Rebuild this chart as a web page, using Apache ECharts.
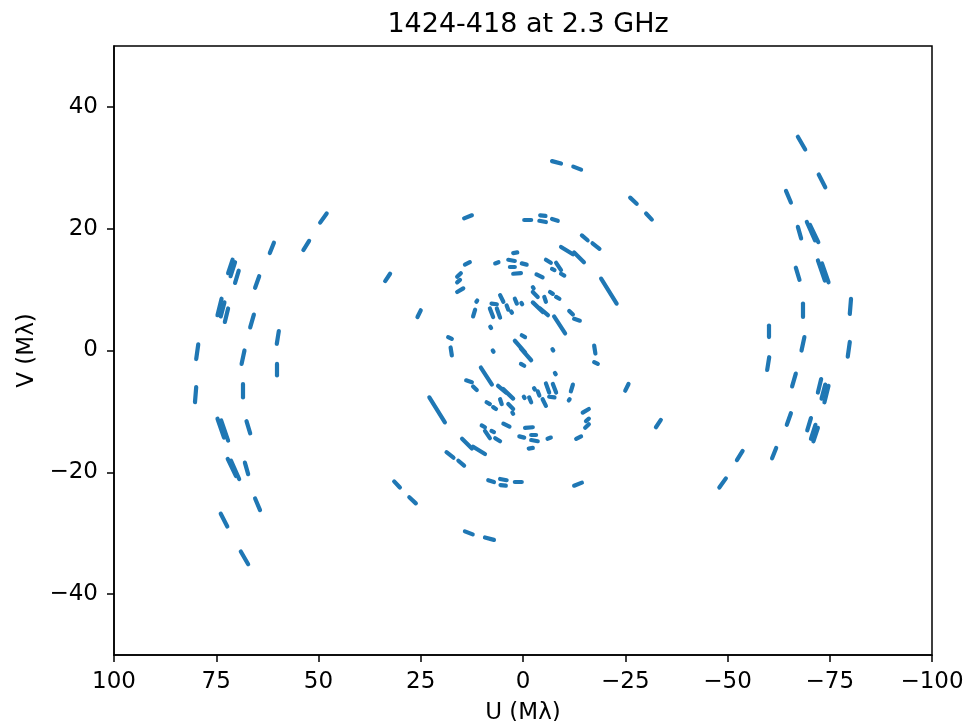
<!DOCTYPE html>
<html>
<head>
<meta charset="utf-8">
<script src="https://cdn.jsdelivr.net/npm/echarts@6/dist/echarts.min.js"></script>
<style>html,body{margin:0;padding:0;background:#fff;}#c{width:978px;height:721px;}</style>
</head>
<body>
<div id="c"></div>
<script>
// uv-track dashes: [u1, v1, u2, v2] in Mλ
const dashesPosU = [
  [61.9,16.0,60.9,17.7],[53.7,16.5,52.3,18.0],[49.6,21.0,48.0,22.5],
  [72.1,12.7,71.0,14.9],[71.5,12.2,70.4,14.5],[70.4,11.1,69.5,13.1],
  [65.5,10.3,64.5,12.2],[74.7,5.8,73.7,8.5],[73.9,5.6,73.0,7.9],
  [72.9,4.7,72.1,6.9],[66.7,3.8,65.8,5.9],[60.2,1.1,59.7,3.2],
  [79.9,-1.4,79.4,1.0],[68.8,-2.2,68.1,0.0],[60.2,-4.1,60.1,-2.2],
  [80.2,-8.5,79.9,-6.0],[68.4,-7.7,68.5,-5.5],[74.7,-11.2,73.1,-14.3],
  [73.8,-11.5,72.1,-14.8],[67.6,-11.6,66.7,-13.6],[72.2,-17.8,70.2,-20.6],
  [71.4,-18.1,69.4,-21.1],[68.0,-18.4,67.2,-20.3],[65.5,-24.3,64.3,-26.2],
  [73.9,-26.8,72.3,-28.9],[69.0,-33.0,67.2,-35.1],
  [33.7,11.4,32.5,12.6],[25.8,5.5,25.0,6.6],[14.4,21.7,12.5,22.2],
  [22.9,-7.7,19.1,-11.8],[31.5,-21.5,30.1,-22.5],[27.8,-24.1,26.2,-25.1],
  [14.2,-29.7,12.3,-30.2],[9.3,-30.7,7.1,-31.1],[18.7,-16.7,17.0,-17.6],
  [15.8,-18.1,14.4,-18.9],[14.9,-14.5,12.5,-16.1],[12.2,-15.8,9.3,-17.0],
  [8.5,-21.3,7.1,-21.6],[5.6,-21.1,4.0,-21.3],[5.5,-22.1,4.2,-22.2],
  [2.0,-21.5,0.3,-21.5],
  [14.2,14.1,13.0,14.5],[6.8,14.3,6.0,14.5],[16.1,12.1,15.2,12.7],
  [16.1,11.2,15.4,11.6],[16.1,9.6,14.6,10.2],[2.4,16.0,1.4,16.1],
  [3.6,14.9,2.0,14.7],[0.3,14.3,-0.9,14.1],[3.2,13.8,2.0,13.8],
  [2.4,12.6,0.5,12.7],[11.4,8.0,11.2,8.2],[11.7,6.7,12.2,5.6],
  [8.1,6.9,7.3,5.5],[7.7,7.7,6.4,7.6],[5.6,9.1,4.8,8.0],
  [6.4,6.9,5.6,5.4],[4.0,7.4,3.6,6.7],[2.9,6.4,2.7,6.2],
  [2.0,8.5,1.5,7.7],[0.4,7.8,0.2,7.6],[8.0,3.9,7.8,3.7],
  [2.0,1.6,-0.5,-0.3],[0.3,2.5,-0.5,2.2],[7.4,0.0,7.2,-0.2],
  [18.3,2.2,17.4,1.9],[17.7,0.5,17.4,-0.8],[10.3,-2.8,7.6,-5.6],
  [13.9,-4.9,12.5,-5.2],[12.2,-5.9,11.3,-6.5],[6.1,-5.8,4.2,-6.9],
  [4.9,-6.3,2.4,-7.9],[8.9,-8.5,8.1,-8.8],[7.3,-9.3,6.6,-9.6],
  [5.6,-8.0,5.2,-8.8],[3.6,-8.8,2.4,-9.6],[2.6,-10.2,2.4,-10.4],
  [10.1,-12.3,9.3,-12.6],[9.3,-13.2,8.1,-14.4],[7.7,-13.2,7.1,-13.4],
  [6.8,-14.4,5.6,-14.9],[4.8,-12.0,3.3,-12.5]
];
const dashesNegU = [
  [-61.9,-16.0,-60.9,-17.7],[-53.7,-16.5,-52.3,-18.0],[-49.6,-21.0,-48.0,-22.5],
  [-72.1,-12.7,-71.0,-14.9],[-71.5,-12.2,-70.4,-14.5],[-70.4,-11.1,-69.5,-13.1],
  [-65.5,-10.3,-64.5,-12.2],[-74.7,-5.8,-73.7,-8.5],[-73.9,-5.6,-73.0,-7.9],
  [-72.9,-4.7,-72.1,-6.9],[-66.7,-3.8,-65.8,-5.9],[-60.2,-1.1,-59.7,-3.2],
  [-79.9,1.4,-79.4,-1.0],[-68.8,2.2,-68.1,0.0],[-60.2,4.1,-60.1,2.2],
  [-80.2,8.5,-79.9,6.0],[-68.4,7.7,-68.5,5.5],[-74.7,11.2,-73.1,14.3],
  [-73.8,11.5,-72.1,14.8],[-67.6,11.6,-66.7,13.6],[-72.2,17.8,-70.2,20.6],
  [-71.4,18.1,-69.4,21.1],[-68.0,18.4,-67.2,20.3],[-65.5,24.3,-64.3,26.2],
  [-73.9,26.8,-72.3,28.9],[-69.0,33.0,-67.2,35.1],
  [-33.7,-11.4,-32.5,-12.6],[-25.8,-5.5,-25.0,-6.6],[-14.4,-21.7,-12.5,-22.2],
  [-22.9,7.7,-19.1,11.8],[-31.5,21.5,-30.1,22.5],[-27.8,24.1,-26.2,25.1],
  [-14.2,29.7,-12.3,30.2],[-9.3,30.7,-7.1,31.1],[-18.7,16.7,-17.0,17.6],
  [-15.8,18.1,-14.4,18.9],[-14.9,14.5,-12.5,16.1],[-12.2,15.8,-9.3,17.0],
  [-8.5,21.3,-7.1,21.6],[-5.6,21.1,-4.0,21.3],[-5.5,22.1,-4.2,22.2],
  [-2.0,21.5,-0.3,21.5],
  [-14.2,-14.1,-13.0,-14.5],[-6.8,-14.3,-6.0,-14.5],[-16.1,-12.1,-15.2,-12.7],
  [-16.1,-11.2,-15.4,-11.6],[-16.1,-9.6,-14.6,-10.2],[-2.4,-16.0,-1.4,-16.1],
  [-3.6,-14.9,-2.0,-14.7],[-0.3,-14.3,0.9,-14.1],[-3.2,-13.8,-2.0,-13.8],
  [-2.4,-12.6,-0.5,-12.7],[-11.4,-8.0,-11.2,-8.2],[-11.7,-6.7,-12.2,-5.6],
  [-8.1,-6.9,-7.3,-5.5],[-7.7,-7.7,-6.4,-7.6],[-5.6,-9.1,-4.8,-8.0],
  [-6.4,-6.9,-5.6,-5.4],[-4.0,-7.4,-3.6,-6.7],[-2.9,-6.4,-2.7,-6.2],
  [-2.0,-8.5,-1.5,-7.7],[-0.4,-7.8,-0.2,-7.6],[-8.0,-3.9,-7.8,-3.7],
  [-2.0,-1.6,0.5,0.3],[-0.3,-2.5,0.5,-2.2],[-7.4,0.0,-7.2,0.2],
  [-18.3,-2.2,-17.4,-1.9],[-17.7,-0.5,-17.4,0.8],[-10.3,2.8,-7.6,5.6],
  [-13.9,4.9,-12.5,5.2],[-12.2,5.9,-11.3,6.5],[-6.1,5.8,-4.2,6.9],
  [-4.9,6.3,-2.4,7.9],[-8.9,8.5,-8.1,8.8],[-7.3,9.3,-6.6,9.6],
  [-5.6,8.0,-5.2,8.8],[-3.6,8.8,-2.4,9.6],[-2.6,10.2,-2.4,10.4],
  [-10.1,12.3,-9.3,12.6],[-9.3,13.2,-8.1,14.4],[-7.7,13.2,-7.1,13.4],
  [-6.8,14.4,-5.6,14.9],[-4.8,12.0,-3.3,12.5]
];
const xTicks = [100, 75, 50, 25, 0, -25, -50, -75, -100];
const yTicks = [-40, -20, 0, 20, 40];
const titleText = '1424-418 at 2.3 GHz';
const xName = 'U (M\u03bb)';
const yName = 'V (M\u03bb)';

const toItems = arr => arr.map(d => ({ coords: [[d[0], d[1]], [d[2], d[3]]] }));
const fmt = v => (v < 0 ? '\u2212' + (-v) : String(v));
const FONT = 'DejaVu Sans';

const chart = echarts.init(document.getElementById('c'), null, { renderer: 'canvas' });
chart.setOption({
  animation: false,
  backgroundColor: '#ffffff',
  title: {
    text: titleText, left: 523, top: 6, textAlign: 'center',
    textStyle: { fontFamily: FONT, fontSize: 27, fontWeight: 'normal', color: '#000' }
  },
  grid: {
    left: 114, right: 46, top: 46, bottom: 66, containLabel: false, outerBoundsMode: 'none',
    show: true, borderColor: '#000', borderWidth: 1.5
  },
  xAxis: {
    type: 'value', inverse: true, min: -100, max: 100,
    axisLabel: { customValues: xTicks, formatter: fmt, fontFamily: FONT, fontSize: 23, color: '#000', margin: 16 },
    axisTick: { customValues: xTicks, inside: false, length: 7, lineStyle: { color: '#000', width: 1.5 } },
    axisLine: { show: true, onZero: false, lineStyle: { color: '#000', width: 1.5 } },
    splitLine: { show: false },
    name: xName, nameLocation: 'middle', nameGap: 47,
    nameTextStyle: { fontFamily: FONT, fontSize: 23, color: '#000' }
  },
  yAxis: {
    type: 'value', min: -50, max: 50,
    axisLabel: { customValues: yTicks, formatter: fmt, fontFamily: FONT, fontSize: 23, color: '#000', margin: 16 },
    axisTick: { customValues: yTicks, inside: false, length: 7, lineStyle: { color: '#000', width: 1.5 } },
    axisLine: { show: true, onZero: false, lineStyle: { color: '#000', width: 1.5 } },
    splitLine: { show: false },
    name: yName, nameLocation: 'middle', nameGap: 72, nameRotate: 90,
    nameTextStyle: { fontFamily: FONT, fontSize: 23, color: '#000' }
  },
  series: [
    {
      type: 'lines', coordinateSystem: 'cartesian2d', polyline: false,
      lineStyle: { color: '#1f77b4', width: 4.2, cap: 'round', opacity: 1, curveness: 0 },
      data: toItems(dashesPosU), silent: true
    },
    {
      type: 'lines', coordinateSystem: 'cartesian2d', polyline: false,
      lineStyle: { color: '#1f77b4', width: 4.2, cap: 'round', opacity: 1, curveness: 0 },
      data: toItems(dashesNegU), silent: true
    }
  ]
});
</script>
</body>
</html>
